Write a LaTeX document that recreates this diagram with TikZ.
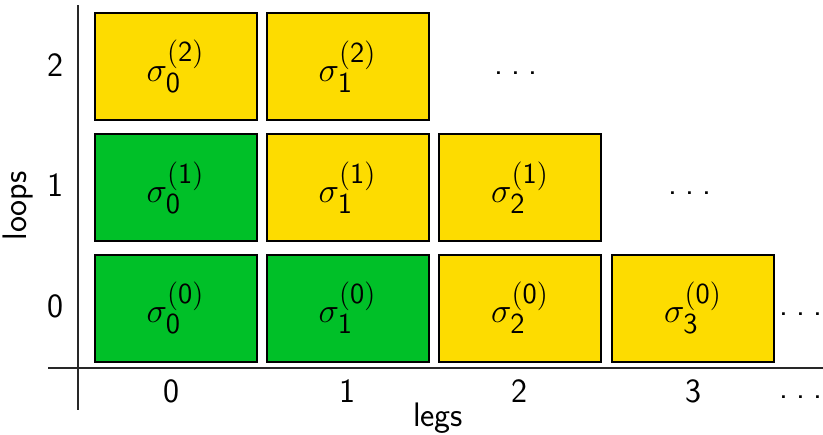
\documentclass[tikz,border=0pt]{standalone}
\usepackage{fontspec}
\setmainfont{Latin Modern Sans}
\DeclareMathSizes{18.5}{18.5}{14.5}{11}
\definecolor{cellyellow}{RGB}{253,220,0}
\definecolor{cellgreen}{RGB}{0,192,40}
\definecolor{axisgray}{RGB}{40,40,40}
\newcommand{\sg}[2]{$\sigma_{\mathsf{#1}}^{\mathsf{(#2)}}$}
\newcommand{\spreaddots}{.\kern4pt.\kern4pt.}
\begin{document}
\begin{tikzpicture}[x=0.5pt,y=-0.5pt,
  every node/.style={font=\fontsize{17}{20}\selectfont},
  cell/.style={draw=black,line width=1pt,minimum width=81pt,minimum height=53.5pt,inner sep=0pt,
    font=\fontsize{18.5}{21}\selectfont},
  yes/.style={cell,fill=cellgreen},
  todo/.style={cell,fill=cellyellow},
  more/.style={anchor=base,inner sep=0pt},
  axis/.style={draw=axisgray,line width=0.8pt}]
\useasboundingbox (0,0) rectangle (823,434);
% axes
\coordinate (ytop) at (78,5);
\coordinate (ybot) at (78,410);
\coordinate (xleft) at (48,368);
\coordinate (xright) at (823,368);
\draw[axis] (ytop) -- (ybot);
\draw[axis] (xleft) -- (xright);
% row 2
\node[todo] (c02) at (175.5,66.5) {\sg{0}{2}};
\node[todo] (c12) at (347.5,66.5) {\sg{1}{2}};
% row 1
\node[yes]  (c01) at (175.5,187.5) {\sg{0}{1}};
\node[todo] (c11) at (347.5,187.5) {\sg{1}{1}};
\node[todo] (c21) at (520,187.5) {\sg{2}{1}};
% row 0
\node[yes]  (c00) at (175.5,308) {\sg{0}{0}};
\node[yes]  (c10) at (347.5,308) {\sg{1}{0}};
\node[todo] (c20) at (520,308) {\sg{2}{0}};
\node[todo] (c30) at (693,308) {\sg{3}{0}};
% continuation dots
\node[more] (d2) at (516,74) {\spreaddots};
\node[more] (d1) at (690,194) {\spreaddots};
\node[more] (d0) at (801,315) {\spreaddots};
\node[more] (dx) at (801,398) {\spreaddots};
% loop numbers
\node (l2) at (55,65) {2};
\node (l1) at (55,185) {1};
\node (l0) at (55,306) {0};
% leg numbers
\node (g0) at (171,391) {0};
\node (g1) at (347,391) {1};
\node (g2) at (519,391) {2};
\node (g3) at (693,391) {3};
% axis titles
\node[rotate=90] (loops) at (18,206) {loops};
\node[anchor=base] (legs) at (438,426) {legs};
\end{tikzpicture}
\end{document}
